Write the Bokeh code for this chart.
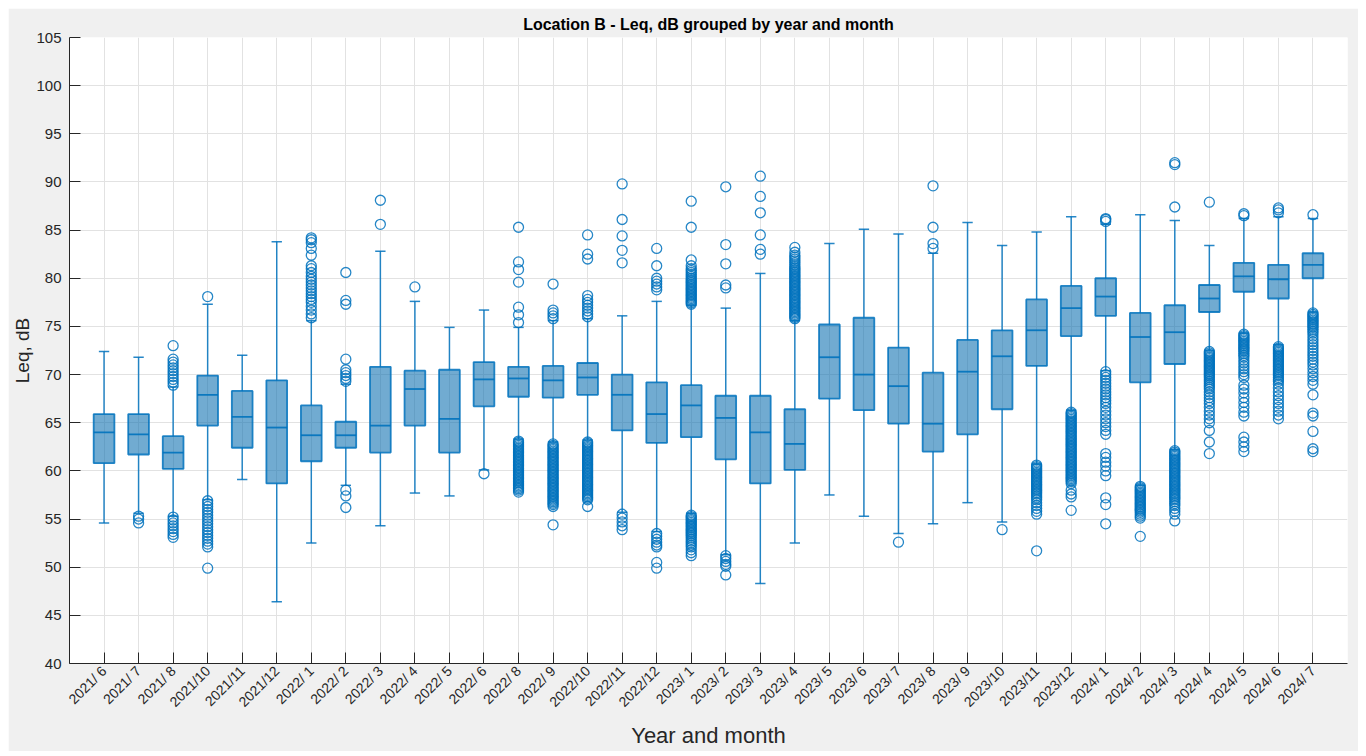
import numpy as np
from bokeh.plotting import figure
from bokeh.models import Range1d, FixedTicker, ColumnDataSource
from bokeh.embed import file_html
from bokeh.resources import INLINE

categories = ["2021/ 6", "2021/ 7", "2021/ 8", "2021/10", "2021/11", "2021/12",
              "2022/ 1", "2022/ 2", "2022/ 3", "2022/ 4", "2022/ 5", "2022/ 6",
              "2022/ 8", "2022/ 9", "2022/10", "2022/11", "2022/12", "2023/ 1",
              "2023/ 2", "2023/ 3", "2023/ 4", "2023/ 5", "2023/ 6", "2023/ 7",
              "2023/ 8", "2023/ 9", "2023/10", "2023/11", "2023/12", "2024/ 1",
              "2024/ 2", "2024/ 3", "2024/ 4", "2024/ 5", "2024/ 6", "2024/ 7"]

lower_whisker = [54.6, 55.6, 55.3, 57.0, 59.1, 46.4, 52.5, 58.5, 54.3, 57.7, 57.4, 60.1,
                 63.3, 63.0, 63.2, 55.7, 53.7, 55.6, 51.3, 48.3, 52.5, 57.5, 55.3, 53.5,
                 54.5, 56.7, 54.7, 60.7, 66.3, 70.4, 58.5, 62.2, 72.5, 74.3, 73.1, 76.5]
q1 = [60.8, 61.7, 60.2, 64.7, 62.4, 58.7, 61.0, 62.4, 61.9, 64.7, 61.9, 66.7,
      67.7, 67.6, 67.9, 64.2, 62.9, 63.5, 61.2, 58.7, 60.1, 67.5, 66.3, 64.9,
      62.0, 63.8, 66.4, 70.9, 74.0, 76.1, 69.2, 71.1, 76.5, 78.6, 77.9, 80.0]
median = [64.0, 63.8, 61.9, 67.9, 65.6, 64.5, 63.7, 63.7, 64.7, 68.5, 65.4, 69.5,
          69.6, 69.4, 69.7, 67.9, 65.9, 66.8, 65.5, 64.0, 62.8, 71.8, 70.0, 68.8,
          64.9, 70.3, 71.9, 74.6, 76.9, 78.1, 73.9, 74.4, 77.9, 80.2, 79.9, 81.4]
q3 = [65.9, 65.9, 63.6, 69.9, 68.3, 69.4, 66.8, 65.1, 70.8, 70.4, 70.5, 71.3,
      70.8, 70.9, 71.2, 70.0, 69.2, 68.9, 67.8, 67.8, 66.4, 75.2, 75.9, 72.8,
      70.2, 73.6, 74.6, 77.8, 79.2, 80.0, 76.4, 77.2, 79.3, 81.6, 81.4, 82.6]
upper_whisker = [72.4, 71.8, 68.7, 77.3, 72.0, 83.8, 75.6, 69.0, 82.8, 77.6, 74.9, 76.7,
                 74.9, 75.6, 75.8, 76.1, 77.6, 77.2, 76.9, 80.5, 75.6, 83.6, 85.1, 84.6,
                 82.6, 85.8, 83.4, 84.8, 86.4, 85.6, 86.6, 86.0, 83.4, 86.2, 86.4, 86.2]

outliers = [
    [],
    [55.3, 55.0, 54.6],
    [68.9, 69.2, 69.5, 69.8, 70.1, 70.4, 70.7, 71.0, 71.3, 71.6, 73.0,
     55.2, 54.9, 54.6, 54.3, 54.0, 53.7, 53.4, 53.1],
    [78.1, 56.9, 56.6, 56.3, 56.0, 55.7, 55.4, 55.1, 54.8, 54.5, 54.2, 53.9, 53.6,
     53.3, 53.0, 52.7, 52.4, 52.1, 49.9],
    [],
    [],
    [75.9, 76.3, 76.7, 77.1, 77.5, 77.8, 78.1, 78.4, 78.7, 79.0, 79.3, 79.6, 79.9,
     80.2, 80.6, 81.0, 81.3, 82.4, 83.1, 83.7, 84.0, 84.2],
    [69.3, 69.6, 69.9, 70.2, 70.5, 71.6, 77.3, 77.7, 80.6, 58.0, 57.4, 56.2],
    [85.6, 88.1],
    [79.1],
    [],
    [59.7],
    [75.4, 76.2, 77.0, 79.6, 80.9, 81.7, 85.3,
     63.1, 62.95, 62.8, 62.65, 62.5, 62.35, 62.2, 62.05, 61.9, 61.75, 61.6, 61.45,
     61.3, 61.15, 61.0, 60.85, 60.7, 60.55, 60.4, 60.25, 60.1, 59.95, 59.8, 59.65,
     59.5, 59.35, 59.2, 59.05, 58.9, 58.75, 58.6, 58.45, 58.3, 58.15, 58.0, 57.8],
    [75.8, 76.1, 76.4, 76.7, 79.4,
     62.8, 62.65, 62.5, 62.35, 62.2, 62.05, 61.9, 61.75, 61.6, 61.45, 61.3, 61.15,
     61.0, 60.85, 60.7, 60.55, 60.4, 60.25, 60.1, 59.95, 59.8, 59.65, 59.5, 59.35,
     59.2, 59.05, 58.9, 58.75, 58.6, 58.45, 58.3, 58.15, 58.0, 57.85, 57.7, 57.55,
     57.4, 57.25, 57.1, 56.95, 56.8, 56.65, 56.5, 56.3, 54.4],
    [76.0, 76.3, 76.6, 76.9, 77.2, 77.5, 77.8, 78.2, 82.0, 82.5, 84.5,
     63.0, 62.85, 62.7, 62.55, 62.4, 62.25, 62.1, 61.95, 61.8, 61.65, 61.5, 61.35,
     61.2, 61.05, 60.9, 60.75, 60.6, 60.45, 60.3, 60.15, 60.0, 59.85, 59.7, 59.55,
     59.4, 59.25, 59.1, 58.95, 58.8, 58.65, 58.5, 58.35, 58.2, 58.05, 57.9, 57.75,
     57.6, 57.45, 57.3, 57.15, 57.0, 56.3],
    [81.6, 82.9, 84.4, 86.1, 89.8, 55.5, 55.1, 54.7, 54.3, 53.9],
    [78.8, 79.1, 79.4, 79.7, 80.0, 81.3, 83.1,
     53.5, 53.2, 52.9, 52.6, 52.3, 52.1, 50.5, 49.9],
    [77.3, 77.45, 77.6, 77.75, 77.9, 78.05, 78.2, 78.35, 78.5, 78.65, 78.8, 78.95,
     79.1, 79.25, 79.4, 79.55, 79.7, 79.85, 80.0, 80.2, 80.4, 80.6, 80.8, 81.0,
     81.3, 81.9, 85.3, 88.0,
     55.4, 55.25, 55.1, 54.95, 54.8, 54.65, 54.5, 54.35, 54.2, 54.05, 53.9, 53.75,
     53.6, 53.45, 53.3, 53.1, 52.9, 52.7, 52.5, 52.3, 52.1, 51.8, 51.5, 51.2],
    [79.0, 79.3, 81.5, 83.5, 89.5, 51.2, 50.9, 50.6, 50.3, 50.1, 49.2],
    [82.5, 83.0, 84.5, 86.8, 88.5, 90.6],
    [75.8, 75.95, 76.1, 76.25, 76.4, 76.55, 76.7, 76.85, 77.0, 77.15, 77.3, 77.45,
     77.6, 77.75, 77.9, 78.05, 78.2, 78.35, 78.5, 78.65, 78.8, 78.95, 79.1, 79.25,
     79.4, 79.55, 79.7, 79.85, 80.0, 80.15, 80.3, 80.45, 80.6, 80.75, 80.9, 81.05,
     81.2, 81.4, 81.6, 81.8, 82.0, 82.2, 82.4, 82.7, 83.2],
    [],
    [],
    [52.6],
    [83.1, 83.6, 85.3, 89.6],
    [],
    [53.9],
    [60.6, 60.45, 60.3, 60.15, 60.0, 59.85, 59.7, 59.55, 59.4, 59.25, 59.1, 58.95,
     58.8, 58.65, 58.5, 58.35, 58.2, 58.05, 57.9, 57.75, 57.6, 57.4, 57.2, 57.0,
     56.7, 56.4, 56.1, 55.8, 55.5, 51.7],
    [66.1, 65.95, 65.8, 65.65, 65.5, 65.35, 65.2, 65.05, 64.9, 64.75, 64.6, 64.45,
     64.3, 64.15, 64.0, 63.85, 63.7, 63.55, 63.4, 63.25, 63.1, 62.95, 62.8, 62.65,
     62.5, 62.35, 62.2, 62.05, 61.9, 61.75, 61.6, 61.45, 61.3, 61.15, 61.0, 60.85,
     60.7, 60.55, 60.4, 60.25, 60.1, 59.95, 59.8, 59.65, 59.5, 59.35, 59.2, 59.05,
     58.9, 58.7, 58.0, 57.6, 57.3, 55.9],
    [85.9, 86.1, 86.2,
     70.3, 70.0, 69.7, 69.4, 69.1, 68.8, 68.5, 68.2, 67.9, 67.6, 67.3, 67.0, 66.6,
     66.2, 65.8, 65.4, 65.0, 64.6, 64.2, 63.8, 61.8, 61.4, 60.9, 60.5, 60.0, 59.5,
     57.2, 56.5, 54.5],
    [58.4, 58.25, 58.1, 57.95, 57.8, 57.65, 57.5, 57.35, 57.2, 57.05, 56.9, 56.75,
     56.6, 56.45, 56.3, 56.15, 56.0, 55.85, 55.7, 55.5, 55.3, 55.1, 53.2],
    [87.4, 91.8, 92.0,
     62.1, 61.95, 61.8, 61.65, 61.5, 61.35, 61.2, 61.05, 60.9, 60.75, 60.6, 60.45,
     60.3, 60.15, 60.0, 59.85, 59.7, 59.55, 59.4, 59.25, 59.1, 58.95, 58.8, 58.65,
     58.5, 58.35, 58.2, 58.05, 57.9, 57.75, 57.6, 57.45, 57.3, 57.15, 57.0, 56.8,
     56.6, 56.4, 56.1, 55.8, 55.5, 54.8],
    [87.9,
     72.4, 72.25, 72.1, 71.95, 71.8, 71.65, 71.5, 71.35, 71.2, 71.05, 70.9, 70.75,
     70.6, 70.45, 70.3, 70.15, 70.0, 69.85, 69.7, 69.5, 69.3, 69.1, 68.9, 68.7,
     68.5, 68.2, 67.9, 67.6, 67.3, 67.0, 66.6, 66.2, 65.8, 65.4, 65.0, 64.2, 63.0,
     61.8],
    [86.5, 86.7,
     74.2, 74.05, 73.9, 73.75, 73.6, 73.45, 73.3, 73.15, 73.0, 72.85, 72.7, 72.55,
     72.4, 72.2, 72.0, 71.8, 71.5, 71.2, 70.9, 70.6, 70.3, 70.0, 69.7, 68.9, 68.5,
     68.1, 67.6, 67.1, 66.6, 66.1, 65.7, 63.5, 63.0, 62.5, 62.0],
    [86.8, 87.1, 87.3,
     72.9, 72.75, 72.6, 72.45, 72.3, 72.15, 72.0, 71.85, 71.7, 71.55, 71.4, 71.25,
     71.1, 70.95, 70.8, 70.65, 70.5, 70.35, 70.2, 70.05, 69.9, 69.7, 69.5, 69.3,
     69.0, 68.6, 68.2, 67.8, 67.4, 67.0, 66.6, 66.2, 65.8, 65.4],
    [86.6,
     76.4, 76.25, 76.1, 75.95, 75.8, 75.65, 75.5, 75.35, 75.2, 75.05, 74.9, 74.7,
     74.5, 74.3, 74.0, 73.7, 73.4, 73.1, 72.8, 72.5, 72.2, 71.9, 71.6, 71.3, 71.0,
     70.6, 70.2, 69.8, 69.4, 69.0, 67.9, 66.0, 65.7, 64.1, 62.3, 62.0],
]

y_ticks = [40, 45, 50, 55, 60, 65, 70, 75, 80, 85, 90, 95, 100, 105]

FONT = "Liberation Sans"
BLUE = "#0072BD"
TXT = "#262626"

n = len(categories)
xpos = np.arange(1, n + 1)
box_w = 0.6
cap_w = 0.3

src = ColumnDataSource(dict(
    x=xpos, lw=lower_whisker, q1=q1, med=median, q3=q3, uw=upper_whisker,
    bx0=xpos - box_w / 2, bx1=xpos + box_w / 2,
    cx0=xpos - cap_w / 2, cx1=xpos + cap_w / 2,
))

ox, oy = [], []
for i, vals in enumerate(outliers):
    ox.extend([xpos[i]] * len(vals))
    oy.extend(vals)
osrc = ColumnDataSource(dict(x=ox, y=oy))

p = figure(width=1350, height=743,
           x_range=Range1d(0, n + 1), y_range=Range1d(40, 105),
           output_backend="svg", toolbar_location=None,
           title="Location B - Leq, dB grouped by year and month",
           min_border_left=61, min_border_right=11, min_border_top=29,
           min_border_bottom=88)
p.margin = (8, 8, 5, 8)

p.border_fill_color = "#f0f0f0"
p.background_fill_color = "white"
p.outline_line_color = None

p.title.align = "center"
p.title.text_font = FONT
p.title.text_font_size = "16px"
p.title.text_font_style = "bold"
p.title.text_color = "#000000"
p.title.standoff = 10

# whiskers
wkw = dict(source=src, line_color=BLUE, line_width=1.5, line_alpha=0.85)
p.segment(x0="x", y0="q3", x1="x", y1="uw", **wkw)
p.segment(x0="x", y0="q1", x1="x", y1="lw", **wkw)
p.segment(x0="cx0", y0="uw", x1="cx1", y1="uw", **wkw)
p.segment(x0="cx0", y0="lw", x1="cx1", y1="lw", **wkw)

# boxes
p.vbar(x="x", width=box_w, bottom="q1", top="q3", source=src,
       fill_color="#0a6fb0", fill_alpha=0.58, line_color=BLUE, line_width=1.8, line_alpha=0.85)
p.segment(x0="bx0", y0="med", x1="bx1", y1="med", source=src,
          line_color=BLUE, line_width=1.8, line_alpha=0.9)

# outliers
p.scatter(x="x", y="y", source=osrc, marker="circle", size=10, fill_color=None,
          line_color=BLUE, line_width=1.3, line_alpha=0.85)

# axes
xa = p.xaxis[0]
xa.ticker = FixedTicker(ticks=list(xpos))
xa.major_label_overrides = {int(xp): c for xp, c in zip(xpos, categories)}
xa.major_label_orientation = np.pi / 4
xa.axis_label = "Year and month"
ya = p.yaxis[0]
ya.ticker = FixedTicker(ticks=y_ticks)
ya.axis_label = "Leq, dB"

for ax in (xa, ya):
    ax.axis_line_color = TXT
    ax.axis_line_width = 1
    ax.major_tick_line_color = TXT
    ax.major_tick_in = 11
    ax.major_tick_out = 0
    ax.minor_tick_line_color = None
    ax.major_label_text_font = FONT
    ax.major_label_text_color = TXT
    ax.axis_label_text_font = FONT
    ax.axis_label_text_color = TXT
    ax.axis_label_text_font_style = "normal"

xa.major_label_text_font_size = "14px"
xa.major_label_standoff = 5
xa.axis_label_text_font_size = "22px"
xa.axis_label_standoff = 4
ya.major_label_text_font_size = "15px"
ya.major_label_standoff = 8
ya.axis_label_text_font_size = "19px"
ya.axis_label_standoff = 0

p.xgrid.grid_line_color = "#e2e2e2"
p.ygrid.grid_line_color = "#e2e2e2"
p.xgrid.grid_line_width = 1
p.ygrid.grid_line_width = 1

open("out.html", "w").write(file_html(p, INLINE))
